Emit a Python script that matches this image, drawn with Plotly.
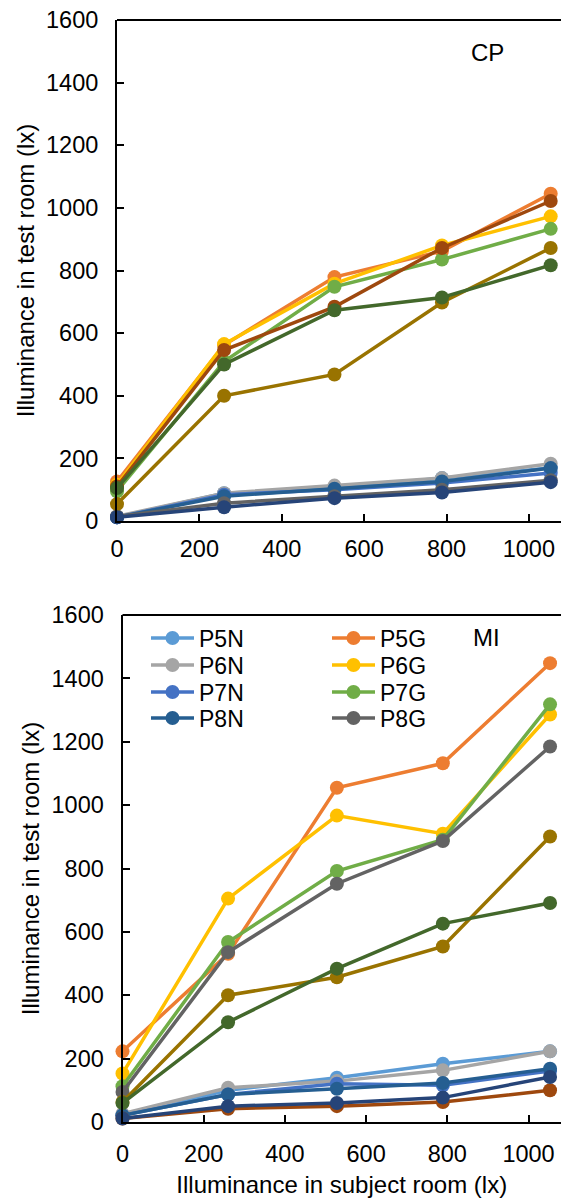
import plotly.graph_objects as go

# x positions (illuminance in subject room, lx)
x_vals = [0, 260, 528, 789, 1053]

# Excel-style series colours (order = drawing order)
colors = ["#5B9BD5", "#ED7D31", "#A5A5A5", "#FFC000", "#4472C4", "#70AD47",
          "#255E91", "#9E480E", "#636363", "#997300", "#264478", "#43682B"]
names = ["P5N", "P5G", "P6N", "P6G", "P7N", "P7G",
         "P8N", "Series 8", "P8G", "Series 10", "Series 11", "Series 12"]
# legend row for each series in the MI panel (None = not in legend)
legend_row = [1, 1, 2, 2, 3, 3, 4, None, 4, None, None, None]

# CP panel (top)
cp_P5N = [12, 89, 105, 137, 169]
cp_P5G = [126, 562, 779, 862, 1045]
cp_P6N = [15, 89, 113, 137, 183]
cp_P6G = [116, 565, 758, 880, 973]
cp_P7N = [12, 84, 100, 121, 153]
cp_P7G = [95, 509, 748, 835, 933]
cp_P8N = [12, 79, 103, 126, 169]
cp_S8 = [110, 546, 684, 872, 1022]
cp_P8G = [14, 57, 79, 100, 130]
cp_S10 = [54, 400, 468, 698, 872]
cp_S11 = [12, 44, 73, 91, 124]
cp_S12 = [105, 500, 673, 714, 817]

# MI panel (bottom)
mi_P5N = [21, 100, 140, 184, 223]
mi_P5G = [223, 531, 1055, 1132, 1448]
mi_P6N = [26, 108, 129, 163, 223]
mi_P6G = [153, 705, 967, 910, 1286]
mi_P7N = [21, 87, 121, 116, 161]
mi_P7G = [113, 568, 792, 891, 1318]
mi_P8N = [21, 87, 105, 123, 168]
mi_S8 = [11, 42, 50, 63, 100]
mi_P8G = [95, 536, 752, 887, 1185]
mi_S10 = [63, 400, 457, 554, 901]
mi_S11 = [11, 50, 60, 77, 142]
mi_S12 = [60, 315, 484, 626, 691]

cp_series = [cp_P5N, cp_P5G, cp_P6N, cp_P6G, cp_P7N, cp_P7G,
             cp_P8N, cp_S8, cp_P8G, cp_S10, cp_S11, cp_S12]
mi_series = [mi_P5N, mi_P5G, mi_P6N, mi_P6G, mi_P7N, mi_P7G,
             mi_P8N, mi_S8, mi_P8G, mi_S10, mi_S11, mi_S12]

y_ticks = [0, 200, 400, 600, 800, 1000, 1200, 1400, 1600]
x_ticks = [0, 200, 400, 600, 800, 1000]

FONT = "Liberation Sans, Arial, sans-serif"
W, H = 561, 1198

fig = go.Figure()
for i, ys in enumerate(cp_series):
    fig.add_trace(go.Scatter(x=x_vals, y=ys, mode="lines+markers", name=names[i],
                             line=dict(color=colors[i], width=3.5),
                             marker=dict(color=colors[i], size=14),
                             xaxis="x", yaxis="y", showlegend=False,
                             cliponaxis=False))
for i, ys in enumerate(mi_series):
    row = legend_row[i]
    fig.add_trace(go.Scatter(x=x_vals, y=ys, mode="lines+markers", name=names[i],
                             line=dict(color=colors[i], width=3.5),
                             marker=dict(color=colors[i], size=14),
                             xaxis="x2", yaxis="y2", showlegend=row is not None,
                             legend=("legend" if row in (None, 1) else "legend%d" % row),
                             cliponaxis=False))

def py(px):
    return (H - px) / H

axis_common = dict(showline=True, linecolor="black", linewidth=2, ticks="inside",
                   ticklen=7, tickwidth=2, tickcolor="black", showgrid=False,
                   zeroline=False, automargin=False,
                   tickfont=dict(size=23.5, color="black", family=FONT))

row_y = [638, 665, 692, 718]
legends = {}
for k, yy in enumerate(row_y):
    key = "legend" if k == 0 else "legend%d" % (k + 1)
    legends[key] = dict(orientation="h", x=146 / W, y=py(yy), xanchor="left", yanchor="middle",
                        entrywidth=123, itemwidth=43, bgcolor="rgba(0,0,0,0)",
                        font=dict(size=23, family=FONT, color="black"))

fig.update_layout(
    width=W, height=H, margin=dict(l=0, r=0, t=0, b=0, autoexpand=False),
    paper_bgcolor="white", plot_bgcolor="white",
    font=dict(family=FONT, size=24, color="black"),
    xaxis=dict(domain=[117 / W, 1], range=[0, 1078], tickvals=x_ticks, anchor="y",
               ticklabelstandoff=6, **axis_common),
    yaxis=dict(domain=[py(521), py(20)], range=[0, 1600], tickvals=y_ticks, anchor="x",
               ticklabelstandoff=12,
               title=dict(text="Illuminance in test room (lx)", font=dict(size=24), standoff=5),
               **axis_common),
    xaxis2=dict(domain=[122.5 / W, 1], range=[0, 1080], tickvals=x_ticks, anchor="y2",
                ticklabelstandoff=10,
                title=dict(text="Illuminance in subject room (lx)", font=dict(size=24), standoff=21),
                **axis_common),
    yaxis2=dict(domain=[py(1122), py(615)], range=[0, 1600], tickvals=y_ticks, anchor="x2",
                ticklabelstandoff=12,
                title=dict(text="Illuminance in test room (lx)", font=dict(size=24), standoff=5),
                **axis_common),
    annotations=[
        dict(text="CP", x=487 / W, y=py(52), xref="paper", yref="paper", showarrow=False,
             xanchor="center", yanchor="middle",
             font=dict(size=24, family=FONT, color="black")),
        dict(text="MI", x=486 / W, y=py(637), xref="paper", yref="paper", showarrow=False,
             xanchor="center", yanchor="middle",
             font=dict(size=24, family=FONT, color="black")),
    ],
    shapes=[
        dict(type="line", xref="x domain", yref="y domain", x0=0, x1=1, y0=1, y1=1,
             line=dict(color="black", width=2)),
        dict(type="line", xref="x2 domain", yref="y2 domain", x0=0, x1=1, y0=1, y1=1,
             line=dict(color="black", width=2)),
    ],
    **legends,
)

fig.write_html("out.html", config={"displayModeBar": False},
               post_script="document.body.style.margin='0';document.body.style.overflow='hidden';")
